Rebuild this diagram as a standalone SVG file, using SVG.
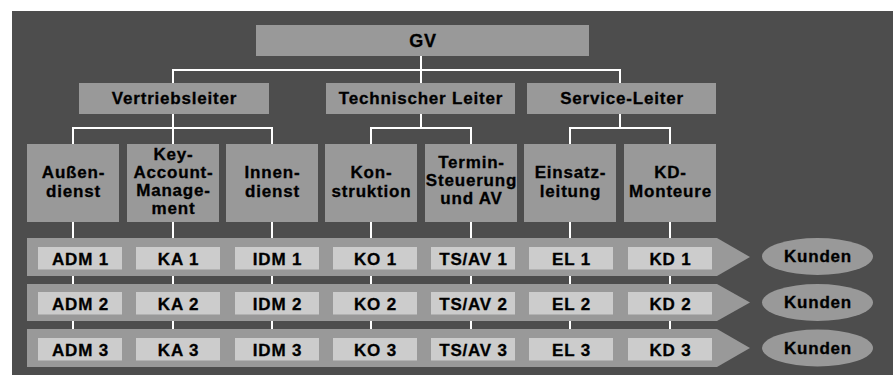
<svg xmlns="http://www.w3.org/2000/svg" width="893" height="375" viewBox="0 0 893 375">
<style>
.bg{fill:#4d4d4d}
.box{fill:#999999}
.cell{fill:#cccccc}
.band{fill:#999999}
.ell{fill:#999999}
.ln{stroke:#ffffff;stroke-width:2;fill:none}
text{font-family:"Liberation Sans",Arial,Helvetica,sans-serif;font-weight:bold;font-size:17px;fill:#000;stroke:#000;stroke-width:0.3;text-anchor:middle;letter-spacing:0.8px}
.big{font-size:18px}
</style>
<rect x="0" y="0" width="893" height="375" fill="#ffffff"/>
<rect class="bg" x="12" y="11" width="881" height="364"/>
<g id="connectors">
<path class="ln" d="M421,56 V83 M173,83 V70 H620 V83"/>
<path class="ln" d="M173,114 V128 M73,144 V128 H272 V144 M173,128 V144"/>
<path class="ln" d="M421,114 V128 M371,144 V128 H471 V144"/>
<path class="ln" d="M620,114 V128 M570,144 V128 H670 V144"/>
<path class="ln" d="M73,222 V238 M173,222 V238 M272,222 V238 M371,222 V238 M471,222 V238 M570,222 V238 M670,222 V238"/>
<path class="ln" d="M73,276 V284 M173,276 V284 M272,276 V284 M371,276 V284 M471,276 V284 M570,276 V284 M670,276 V284"/>
<path class="ln" d="M73,321 V329 M173,321 V329 M272,321 V329 M371,321 V329 M471,321 V329 M570,321 V329 M670,321 V329"/>
</g>
<g id="gv"><rect class="box" x="256" y="25" width="333" height="31"/><text class="big" x="423" y="46.5">GV</text></g>
<g id="vertriebsleiter"><rect class="box" x="79" y="83" width="190" height="31"/><text x="174.5" y="103.5">Vertriebsleiter</text></g>
<g id="technischer-leiter"><rect class="box" x="326" y="83" width="189" height="31"/><text x="421" y="103.5">Technischer Leiter</text></g>
<g id="service-leiter"><rect class="box" x="527" y="83" width="189" height="31"/><text x="622" y="103.5">Service-Leiter</text></g>
<g id="aussendienst"><rect class="box" x="27" y="144" width="92" height="78"/><text x="73.5" y="178">Außen-</text><text x="73.5" y="197">dienst</text></g>
<g id="key-account"><rect class="box" x="127" y="144" width="92" height="78"/><text x="173.5" y="159.5">Key-</text><text x="173.5" y="177.5">Account-</text><text x="173.5" y="195.5">Manage-</text><text x="173.5" y="214">ment</text></g>
<g id="innendienst"><rect class="box" x="226" y="144" width="92" height="78"/><text x="272.5" y="178">Innen-</text><text x="272.5" y="197">dienst</text></g>
<g id="konstruktion"><rect class="box" x="325" y="144" width="92" height="78"/><text x="371.5" y="178">Kon-</text><text x="371.5" y="197">struktion</text></g>
<g id="terminsteuerung"><rect class="box" x="425" y="144" width="92" height="78"/><text x="471.5" y="168">Termin-</text><text x="471.5" y="186">Steuerung</text><text x="471.5" y="204">und AV</text></g>
<g id="einsatzleitung"><rect class="box" x="524" y="144" width="92" height="78"/><text x="570.5" y="178">Einsatz-</text><text x="570.5" y="197">leitung</text></g>
<g id="kd-monteure"><rect class="box" x="624" y="144" width="92" height="78"/><text x="670.5" y="178">KD-</text><text x="670.5" y="197">Monteure</text></g>
<g id="band1">
<polygon class="band" points="27,238 717,238 750,257 717,276 27,276"/>
<rect class="cell" x="38" y="247" width="84" height="22.5"/><text x="80.5" y="265">ADM 1</text>
<rect class="cell" x="136" y="247" width="84" height="22.5"/><text x="178.5" y="265">KA 1</text>
<rect class="cell" x="235" y="247" width="84" height="22.5"/><text x="277.5" y="265">IDM 1</text>
<rect class="cell" x="333" y="247" width="84" height="22.5"/><text x="375.5" y="265">KO 1</text>
<rect class="cell" x="431" y="247" width="84" height="22.5"/><text x="473.5" y="265">TS/AV 1</text>
<rect class="cell" x="529" y="247" width="84" height="22.5"/><text x="571.5" y="265">EL 1</text>
<rect class="cell" x="628" y="247" width="84" height="22.5"/><text x="670.5" y="265">KD 1</text>
</g>
<g id="band2">
<polygon class="band" points="27,284 717,284 750,302.5 717,321 27,321"/>
<rect class="cell" x="38" y="292" width="84" height="22.5"/><text x="80.5" y="310">ADM 2</text>
<rect class="cell" x="136" y="292" width="84" height="22.5"/><text x="178.5" y="310">KA 2</text>
<rect class="cell" x="235" y="292" width="84" height="22.5"/><text x="277.5" y="310">IDM 2</text>
<rect class="cell" x="333" y="292" width="84" height="22.5"/><text x="375.5" y="310">KO 2</text>
<rect class="cell" x="431" y="292" width="84" height="22.5"/><text x="473.5" y="310">TS/AV 2</text>
<rect class="cell" x="529" y="292" width="84" height="22.5"/><text x="571.5" y="310">EL 2</text>
<rect class="cell" x="628" y="292" width="84" height="22.5"/><text x="670.5" y="310">KD 2</text>
</g>
<g id="band3">
<polygon class="band" points="27,329 717,329 750,348 717,367 27,367"/>
<rect class="cell" x="38" y="338" width="84" height="22.5"/><text x="80.5" y="356">ADM 3</text>
<rect class="cell" x="136" y="338" width="84" height="22.5"/><text x="178.5" y="356">KA 3</text>
<rect class="cell" x="235" y="338" width="84" height="22.5"/><text x="277.5" y="356">IDM 3</text>
<rect class="cell" x="333" y="338" width="84" height="22.5"/><text x="375.5" y="356">KO 3</text>
<rect class="cell" x="431" y="338" width="84" height="22.5"/><text x="473.5" y="356">TS/AV 3</text>
<rect class="cell" x="529" y="338" width="84" height="22.5"/><text x="571.5" y="356">EL 3</text>
<rect class="cell" x="628" y="338" width="84" height="22.5"/><text x="670.5" y="356">KD 3</text>
</g>
<g id="kunden1"><ellipse class="ell" cx="817.5" cy="256.5" rx="55.5" ry="18.5"/><text x="818" y="262">Kunden</text></g>
<g id="kunden2"><ellipse class="ell" cx="817.5" cy="302.5" rx="55.5" ry="18.5"/><text x="818" y="308">Kunden</text></g>
<g id="kunden3"><ellipse class="ell" cx="817.5" cy="348" rx="55.5" ry="18.5"/><text x="818" y="353.5">Kunden</text></g>
</svg>
